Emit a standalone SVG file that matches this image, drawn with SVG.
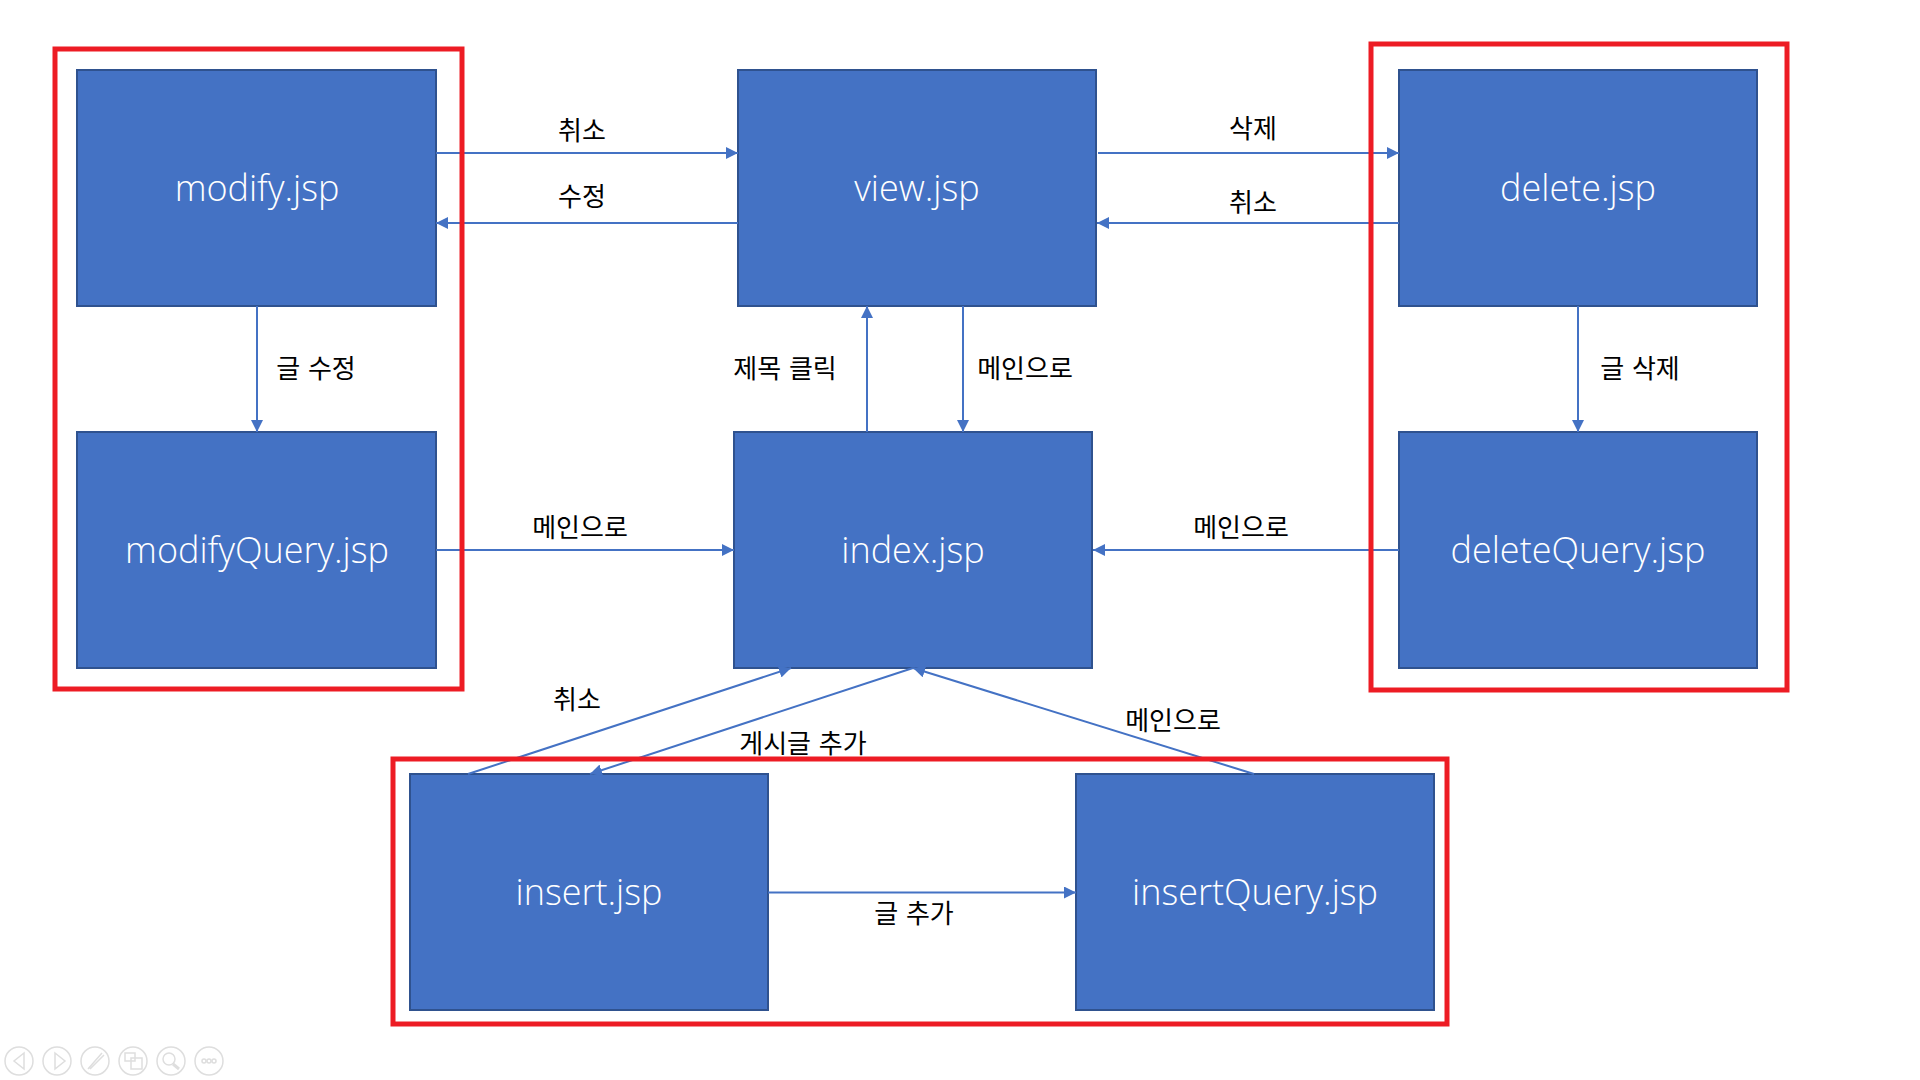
<svg xmlns="http://www.w3.org/2000/svg" width="1920" height="1080" viewBox="0 0 1920 1080">
<style>
.n{fill:#4472C4;stroke:#2F528F;stroke-width:2}
.t{fill:#fff;font-family:"Open Sans","Noto Sans",sans-serif;font-size:36px;font-weight:300;text-anchor:middle;dominant-baseline:central}
.l{fill:#000;font-family:"Noto Sans CJK KR",sans-serif;font-size:26px;font-weight:400;text-anchor:middle;dominant-baseline:central}
.c{fill:none;stroke:#4472C4;stroke-width:2;marker-end:url(#a)}
.r{fill:none;stroke:#ED1C24;stroke-width:5}
.i{fill:none;stroke:#dedede;stroke-width:1.500}
</style>
<defs><marker id="a" viewBox="0 0 10 10" refX="10" refY="5" markerWidth="12" markerHeight="12" markerUnits="userSpaceOnUse" orient="auto"><path d="M0 0L10 5L0 10z" fill="#4472C4"/></marker></defs>
<rect width="1920" height="1080" fill="#fff"/>
<g id="node-modify"><rect class="n" x="77" y="70" width="359" height="236"/><text class="t" x="257" y="187">modify.jsp</text></g>
<g id="node-view"><rect class="n" x="738" y="70" width="358" height="236"/><text class="t" x="917" y="187">view.jsp</text></g>
<g id="node-delete"><rect class="n" x="1399" y="70" width="358" height="236"/><text class="t" x="1578" y="187">delete.jsp</text></g>
<g id="node-modifyQuery"><rect class="n" x="77" y="432" width="359" height="236"/><text class="t" x="257" y="549">modifyQuery.jsp</text></g>
<g id="node-index"><rect class="n" x="734" y="432" width="358" height="236"/><text class="t" x="913" y="549">index.jsp</text></g>
<g id="node-deleteQuery"><rect class="n" x="1399" y="432" width="358" height="236"/><text class="t" x="1578" y="549">deleteQuery.jsp</text></g>
<g id="node-insert"><rect class="n" x="410" y="774" width="358" height="236"/><text class="t" x="589" y="891">insert.jsp</text></g>
<g id="node-insertQuery"><rect class="n" x="1076" y="774" width="358" height="236"/><text class="t" x="1255" y="891">insertQuery.jsp</text></g>
<g id="connectors">
<path class="c" d="M436 153H738"/><path class="c" d="M738 223H436"/>
<path class="c" d="M1098 153H1399"/><path class="c" d="M1399 223H1097"/>
<path class="c" d="M257 306V432"/><path class="c" d="M1578 306V432"/>
<path class="c" d="M867 432V306"/><path class="c" d="M963 306V432"/>
<path class="c" d="M436 550H734"/><path class="c" d="M1399 550H1093"/>
<path class="c" d="M468 774L791 668"/><path class="c" d="M913 668L590 774"/><path class="c" d="M1254 774L913 668"/>
<path class="c" d="M768 892.500H1076"/>
</g>
<g id="labels">
<text class="l" x="582" y="128">취소</text><text class="l" x="582" y="194">수정</text>
<text class="l" x="1253" y="126">삭제</text><text class="l" x="1253" y="200">취소</text>
<text class="l" x="316" y="366" word-spacing="2">글 수정</text><text class="l" x="1640" y="366" word-spacing="2">글 삭제</text>
<text class="l" x="785" y="366" word-spacing="2">제목 클릭</text><text class="l" x="1025" y="366">메인으로</text>
<text class="l" x="580" y="525">메인으로</text><text class="l" x="1241" y="525">메인으로</text>
<text class="l" x="577" y="697">취소</text><text class="l" x="803" y="741" word-spacing="2">게시글 추가</text><text class="l" x="1173" y="718">메인으로</text>
<text class="l" x="914" y="911" word-spacing="2">글 추가</text>
</g>
<g id="frames">
<rect class="r" x="55" y="49" width="407" height="640"/>
<rect class="r" x="1371" y="44" width="416" height="646"/>
<rect class="r" x="393" y="759" width="1054" height="265"/>
</g>
<g id="controls" class="i">
<circle cx="19" cy="1061" r="14"/><path d="M24 1053L14 1061L24 1069z"/>
<circle cx="57" cy="1061" r="14"/><path d="M55 1053L65 1061L55 1069z"/>
<circle cx="95" cy="1061" r="14"/><path d="M88 1069L102 1053M90 1069L104 1055"/>
<circle cx="133" cy="1061" r="14"/><rect x="125" y="1053" width="10" height="8"/><rect x="131" y="1058" width="11" height="11"/>
<circle cx="171" cy="1061" r="14"/><circle cx="169" cy="1059" r="6"/><path d="M173 1064L179 1069" stroke-width="3"/>
<circle cx="209" cy="1061" r="14"/><circle cx="204" cy="1061" r="2"/><circle cx="209" cy="1061" r="2"/><circle cx="214" cy="1061" r="2"/>
</g>
</svg>
